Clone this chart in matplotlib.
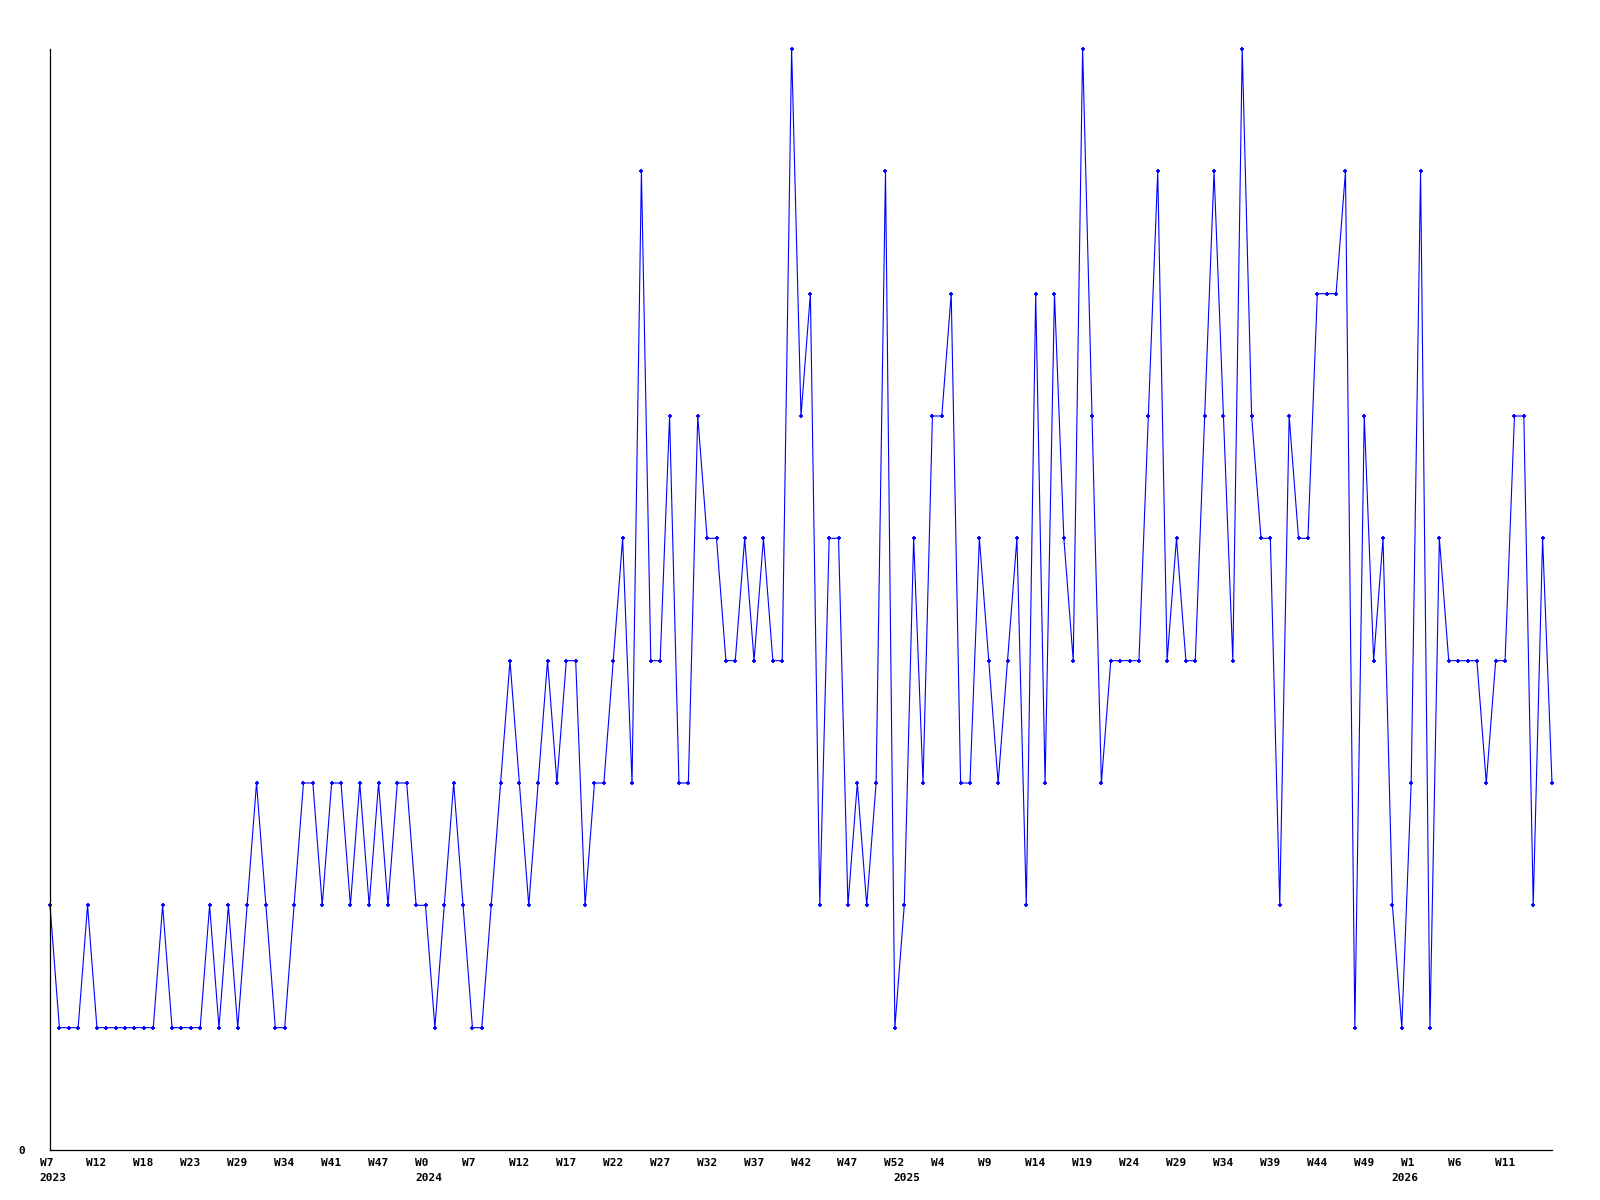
import matplotlib
matplotlib.use("Agg")
import matplotlib.pyplot as plt
from matplotlib.transforms import ScaledTranslation, blended_transform_factory

values = [
    2, 1, 1, 1, 2, 1, 1, 1, 1, 1,
    1, 1, 2, 1, 1, 1, 1, 2, 1, 2,
    1, 2, 3, 2, 1, 1, 2, 3, 3, 2,
    3, 3, 2, 3, 2, 3, 2, 3, 3, 2,
    2, 1, 2, 3, 2, 1, 1, 2, 3, 4,
    3, 2, 3, 4, 3, 4, 4, 2, 3, 3,
    4, 5, 3, 8, 4, 4, 6, 3, 3, 6,
    5, 5, 4, 4, 5, 4, 5, 4, 4, 9,
    6, 7, 2, 5, 5, 2, 3, 2, 3, 8,
    1, 2, 5, 3, 6, 6, 7, 3, 3, 5,
    4, 3, 4, 5, 2, 7, 3, 7, 5, 4,
    9, 6, 3, 4, 4, 4, 4, 6, 8, 4,
    5, 4, 4, 6, 8, 6, 4, 9, 6, 5,
    5, 2, 6, 5, 5, 7, 7, 7, 8, 1,
    6, 4, 5, 2, 1, 3, 8, 1, 5, 4,
    4, 4, 4, 3, 4, 4, 6, 6, 2, 5,
    3,
]

tick_labels = [
    "W7", "W12", "W18", "W23", "W29", "W34", "W41", "W47",
    "W0", "W7", "W12", "W17", "W22", "W27", "W32", "W37", "W42", "W47", "W52",
    "W4", "W9", "W14", "W19", "W24", "W29", "W34", "W39", "W44", "W49",
    "W1", "W6", "W11",
]
tick_step = 5

year_labels = ["2023", "2024", "2025", "2026"]
year_start_index = [0, 40, 91, 144]

FONT = "DejaVu Sans Mono"
DPI = 100

fig = plt.figure(figsize=(16, 12), dpi=DPI)
ax = fig.add_axes([50 / 1600, 1 - 1150 / 1200, (1552 - 50) / 1600, (1150 - 49) / 1200])

x = list(range(len(values)))
ax.plot(x, values, color="#0000ff", linewidth=0.8, marker="+", markersize=3.5,
        markeredgewidth=1.3, clip_on=False)

ax.set_xlim(0, len(values) - 1)
ax.set_ylim(0, 9)

for s in ["top", "right"]:
    ax.spines[s].set_visible(False)
for s in ["left", "bottom"]:
    ax.spines[s].set_color("black")
    ax.spines[s].set_linewidth(0.9)

ax.set_xticks([i * tick_step for i in range(len(tick_labels))])
ax.set_xticklabels(tick_labels, fontfamily=FONT, fontweight="bold", fontsize=8, ha="left")
ax.tick_params(axis="x", length=0, pad=5.5)
shift = ScaledTranslation(-10.5 / DPI, 0, fig.dpi_scale_trans)
for lab in ax.get_xticklabels():
    lab.set_transform(lab.get_transform() + shift)

ax.set_yticks([0])
ax.set_yticklabels(["0"], fontfamily=FONT, fontweight="bold", fontsize=8)
ax.tick_params(axis="y", length=0, pad=18)

blend = blended_transform_factory(ax.transData, ax.transAxes)
yshift = ScaledTranslation(-10.5 / DPI, -23 / DPI, fig.dpi_scale_trans)
for lab, idx in zip(year_labels, year_start_index):
    ax.text(idx, 0, lab, transform=blend + yshift, ha="left", va="top",
            fontfamily=FONT, fontweight="bold", fontsize=8)

fig.savefig("out.png", dpi=DPI, facecolor="white")
